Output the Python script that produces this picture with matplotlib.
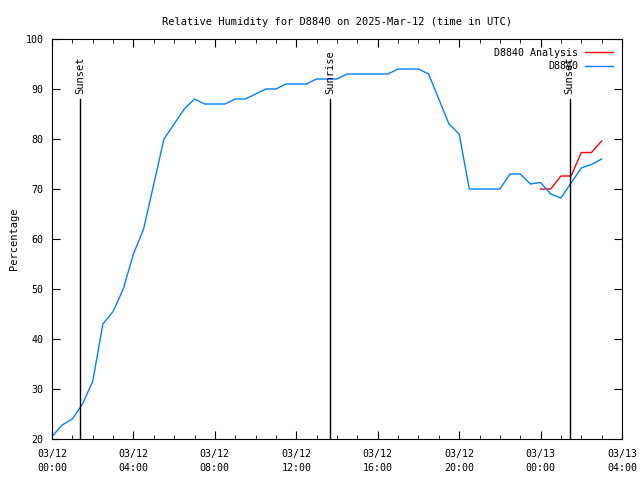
import matplotlib
matplotlib.use("Agg")
import matplotlib.pyplot as plt
import matplotlib.dates as mdates
import pandas as pd

#=====================================================================
# INPUTS
#=====================================================================
title = "Relative Humidity for D8840 on 2025-Mar-12 (time in UTC)"

# station observations, half-hourly from 03/12 00:00
obs_times = pd.date_range("2025-03-12 00:00", periods=55, freq="30min")
obs_rh = [20.5, 22.8, 24, 27, 31.5, 43, 45.5, 50, 57, 62,
          71, 80, 83, 86, 88, 87, 87, 87, 88, 88,
          89, 90, 90, 91, 91, 91, 92, 92, 92, 93,
          93, 93, 93, 93, 94, 94, 94, 93, 88, 83,
          81, 70, 70, 70, 70, 73, 73, 71, 71.3, 69,
          68.2, 71.2, 74.2, 74.9, 76]

# analysis, half-hourly from 03/13 00:00
ana_times = pd.date_range("2025-03-13 00:00", periods=7, freq="30min")
ana_rh = [70, 70, 72.6, 72.6, 77.3, 77.3, 79.6]

events = [("Sunset", "2025-03-12 01:22"),
          ("Sunrise", "2025-03-12 13:39"),
          ("Sunset", "2025-03-13 01:26")]

#=====================================================================
# DRAW
#=====================================================================
plt.rcParams["font.family"] = "DejaVu Sans Mono"
plt.rcParams["font.size"] = 7.2

fig = plt.figure(figsize=(6.4, 4.8), dpi=100)
ax = fig.add_axes([52 / 640, 41 / 480, 570 / 640, 400 / 480])

ax.plot(ana_times, ana_rh, color="#ff0000", lw=1, label="D8840 Analysis")
ax.plot(obs_times, obs_rh, color="#0080ff", lw=1, label="D8840")

for name, t in events:
    t = pd.Timestamp(t)
    ax.plot([t, t], [20, 88], color="k", lw=1)
    ax.text(t, 89, name, rotation=90, ha="center", va="bottom", fontsize=7.5)

ax.set_xlim(pd.Timestamp("2025-03-12 00:00"), pd.Timestamp("2025-03-13 04:00"))
ax.set_ylim(20, 100)
ax.set_yticks(range(20, 101, 10))
ax.xaxis.set_major_locator(mdates.HourLocator(byhour=range(0, 24, 4)))
ax.xaxis.set_minor_locator(mdates.HourLocator())
ax.xaxis.set_major_formatter(mdates.DateFormatter("%m/%d\n%H:%M"))
ax.tick_params(which="both", direction="in", top=True, right=True)
ax.tick_params(which="major", length=6, pad=7)
ax.tick_params(axis="y", pad=6)
ax.tick_params(which="minor", length=3)
for lbl in ax.get_xticklabels():
    lbl.set_linespacing(1.5)

ax.set_title(title, fontsize=7.5, pad=10)
ax.set_ylabel("Percentage", fontsize=7.5, labelpad=5)

leg = ax.legend(loc="upper right", frameon=False, markerfirst=False,
                handlelength=2.8, handletextpad=0.7, borderaxespad=0.5,
                labelspacing=0.35)
for t in leg.get_texts():
    t.set_ha("right")

fig.savefig("out.png", dpi=100)
